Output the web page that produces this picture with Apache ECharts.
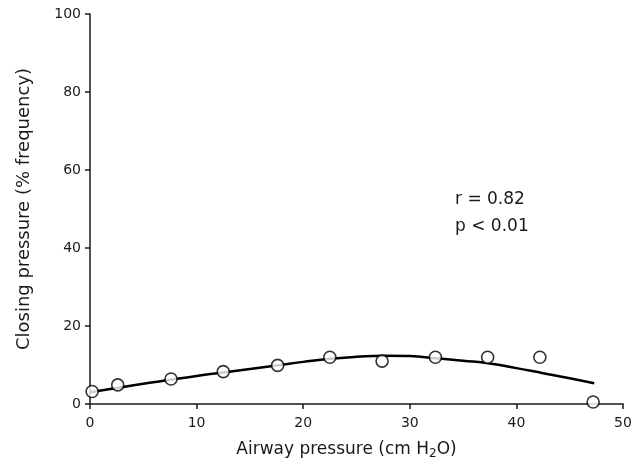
<!DOCTYPE html>
<html>
<head>
<meta charset="utf-8">
<script src="https://cdn.jsdelivr.net/npm/echarts@6/dist/echarts.min.js"></script>
<style>
  html, body { margin: 0; padding: 0; background: #fff; }
  #chart { width: 644px; height: 474px; }
</style>
</head>
<body>
<div id="chart"></div>
<script>
// Measured frequency of closing pressure at each airway pressure
var airwayPressure = [0.2, 2.6, 7.6, 12.5, 17.6, 22.5, 27.4, 32.4, 37.3, 42.2, 47.2];
var closingFreq    = [3.2, 4.9, 6.4, 8.3, 9.9, 12.0, 11.0, 12.0, 12.0, 12.0, 0.5];

// Fitted regression curve
var fitX = [0, 2.5, 5, 7.5, 10, 12.5, 15, 17.5, 20, 22.5, 25, 27.5, 30, 32.5, 35, 37.5, 40, 42.5, 45, 47.3];
var fitY = [3.0, 4.1, 5.2, 6.2, 7.2, 8.1, 9.0, 9.9, 10.8, 11.6, 12.1, 12.4, 12.3, 11.7, 11.1, 10.4, 9.2, 7.9, 6.6, 5.3];

var xTicks = [0, 10, 20, 30, 40, 50];
var yTicks = [0, 20, 40, 60, 80, 100];

var statsLines = ['r = 0.82', 'p < 0.01'];

var FONT = '"DejaVu Sans", Verdana, sans-serif';
var INK = '#1a1a1a';

var chart = echarts.init(document.getElementById('chart'), null, { renderer: 'canvas' });

var axisCommon = {
  axisLine: { show: true, lineStyle: { color: INK, width: 1.5 } },
  axisTick: { show: true, inside: false, length: 5, lineStyle: { color: INK, width: 1.5 } },
  splitLine: { show: false },
  axisLabel: { color: INK, fontFamily: FONT, fontSize: 14 }
};

chart.setOption({
  animation: false,
  backgroundColor: '#fff',
  grid: { left: 90, right: 21, top: 14, bottom: 70, containLabel: false },
  xAxis: Object.assign({}, axisCommon, {
    type: 'value',
    min: xTicks[0],
    max: xTicks[xTicks.length - 1],
    interval: xTicks[1] - xTicks[0],
    name: '{a|Airway pressure (cm H}{s|2}{a|O)}',
    nameLocation: 'middle',
    nameGap: 36,
    nameTextStyle: {
      padding: [0, 20, 0, 0],
      rich: {
        a: { color: INK, fontFamily: FONT, fontSize: 17 },
        s: { color: INK, fontFamily: FONT, fontSize: 12, verticalAlign: 'bottom', padding: [8, 0, 0, 0] }
      }
    },
    axisLabel: Object.assign({}, axisCommon.axisLabel, { margin: 12 })
  }),
  yAxis: Object.assign({}, axisCommon, {
    type: 'value',
    min: yTicks[0],
    max: yTicks[yTicks.length - 1],
    interval: yTicks[1] - yTicks[0],
    name: 'Closing pressure (% frequency)',
    nameLocation: 'middle',
    nameGap: 57,
    nameTextStyle: { color: INK, fontFamily: FONT, fontSize: 18 },
    axisLabel: Object.assign({}, axisCommon.axisLabel, { margin: 9 })
  }),
  graphic: [{
    type: 'text',
    left: 455,
    top: 186,
    style: {
      text: statsLines.join('\n'),
      font: '17px ' + FONT,
      fill: INK,
      lineHeight: 27
    }
  }],
  series: [
    {
      name: 'fit',
      type: 'line',
      data: fitX.map(function (x, i) { return [x, fitY[i]]; }),
      smooth: true,
      showSymbol: false,
      lineStyle: { color: '#000', width: 2.5 },
      z: 2
    },
    {
      name: 'measured',
      type: 'scatter',
      data: airwayPressure.map(function (x, i) { return [x, closingFreq[i]]; }),
      symbol: 'circle',
      symbolSize: 12,
      itemStyle: { color: '#fff', borderColor: '#000', borderWidth: 1.6 },
      z: 3
    }
  ]
});
</script>
</body>
</html>
